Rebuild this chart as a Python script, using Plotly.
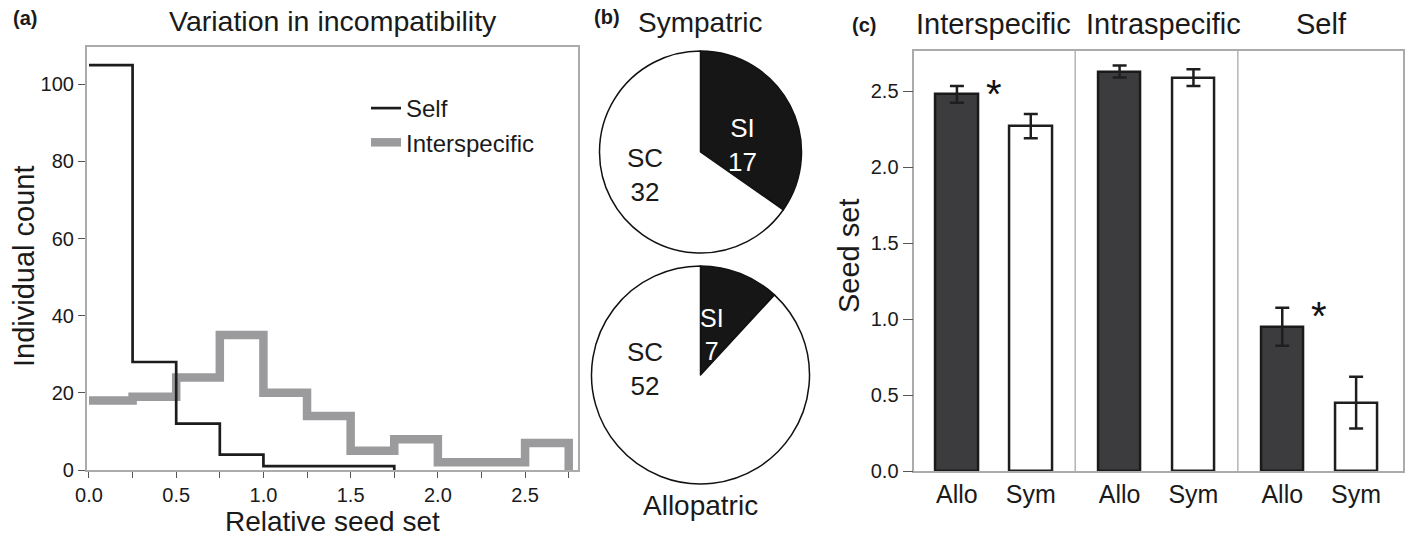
import plotly.graph_objects as go

# ---------------- data ----------------
# (a) histogram of relative seed set (bin edges every 0.25)
bin_edges = [0.0, 0.25, 0.5, 0.75, 1.0, 1.25, 1.5, 1.75, 2.0, 2.25, 2.5, 2.75]
self_counts = [105, 28, 12, 4, 1, 1, 1]
inter_counts = [18, 19, 24, 35, 20, 14, 5, 8, 2, 2, 7]

# (b) pie charts
pie_groups = ["Sympatric", "Allopatric"]
si_counts = [17, 7]
sc_counts = [32, 52]

# (c) seed set bars
cross_types = ["Interspecific", "Intraspecific", "Self"]
origins = ["Allo", "Sym"]
seed_allo = [2.48, 2.63, 0.95]
seed_allo_err = [0.055, 0.04, 0.125]
seed_sym = [2.27, 2.59, 0.45]
seed_sym_err = [0.08, 0.055, 0.17]
significant = [True, False, True]

FONT = "Liberation Sans, Arial, Helvetica, sans-serif"
W, H = 1408, 540


def px_x(p):
    return p / W


def px_y(p):
    return 1 - p / H


fig = go.Figure()

# ---------------- panel (a) ----------------
self_x = bin_edges[:len(self_counts) + 1]
self_y = self_counts + [0]
inter_x = bin_edges[:len(inter_counts) + 1]
inter_y = inter_counts + [0]

fig.add_trace(go.Scatter(x=inter_x, y=inter_y, mode="lines", line_shape="hv",
                         line=dict(color="#9b9b9d", width=8.5), name="Interspecific",
                         xaxis="x", yaxis="y"))
fig.add_trace(go.Scatter(x=self_x, y=self_y, mode="lines", line_shape="hv",
                         line=dict(color="#1c1c1c", width=2.7), name="Self",
                         xaxis="x", yaxis="y"))

# ---------------- panel (b) ----------------
pie_boxes = [  # centre x, centre y (px from top), radius
    (700.5, 152, 101),
    (700.5, 375, 109),
]
for g, si, sc, (cx, cy, r) in zip(pie_groups, si_counts, sc_counts, pie_boxes):
    fig.add_trace(go.Pie(values=[si, sc], labels=["SI", "SC"], sort=False,
                         direction="clockwise", rotation=0,
                         marker=dict(colors=["#161616", "#ffffff"],
                                     line=dict(color="#111111", width=1.5)),
                         textinfo="none", hoverinfo="label+value",
                         showlegend=False,
                         domain=dict(x=[px_x(cx - r), px_x(cx + r)],
                                     y=[px_y(cy + r), px_y(cy - r)])))

# ---------------- panel (c) ----------------
off = 0.227
bw = 0.26
x_allo = [i - off for i in range(len(cross_types))]
x_sym = [i + off for i in range(len(cross_types))]
fig.add_trace(go.Bar(x=x_allo, y=seed_allo, width=bw, name="Allo",
                     marker=dict(color="#3c3c3e", line=dict(color="#1a1a1a", width=2.5)),
                     error_y=dict(type="data", array=seed_allo_err, color="#1e1e1e",
                                  thickness=2.5, width=7),
                     xaxis="x2", yaxis="y2", showlegend=False))
fig.add_trace(go.Bar(x=x_sym, y=seed_sym, width=bw, name="Sym",
                     marker=dict(color="#ffffff", line=dict(color="#1e1e1e", width=2.5)),
                     error_y=dict(type="data", array=seed_sym_err, color="#1e1e1e",
                                  thickness=2.5, width=7),
                     xaxis="x2", yaxis="y2", showlegend=False))

tick_pos = []
tick_txt = []
for i in range(len(cross_types)):
    tick_pos += [x_allo[i], x_sym[i]]
    tick_txt += origins

annotations = []
# asterisks
for i, sig in enumerate(significant):
    if sig:
        top = seed_allo[i] + seed_allo_err[i]
        annotations.append(dict(x=i, y=top, xref="x2", yref="y2", text="*",
                                showarrow=False, font=dict(size=40, color="#111"),
                                yanchor="middle", xanchor="center", yshift=-8))
# group titles
title_shift = [0.0, 0.045, 0.015]
for i, name in enumerate(cross_types):
    annotations.append(dict(x=i + title_shift[i], y=px_y(24), xref="x2", yref="paper",
                            text=name, showarrow=False,
                            font=dict(size=29, color="#1a1a1a")))

# other texts
annotations += [
    dict(x=px_x(25), y=px_y(18), text="<b>(a)</b>", font=dict(size=20)),
    dict(x=px_x(333), y=px_y(21), text="Variation in incompatibility", font=dict(size=28.5)),
    dict(x=px_x(24), y=px_y(266), text="Individual count", font=dict(size=29), textangle=-90),
    dict(x=px_x(332), y=px_y(521), text="Relative seed set", font=dict(size=28)),
    dict(x=px_x(607), y=px_y(17), text="<b>(b)</b>", font=dict(size=20)),
    dict(x=px_x(700), y=px_y(22), text=pie_groups[0], font=dict(size=28)),
    dict(x=px_x(700), y=px_y(505), text=pie_groups[1], font=dict(size=28)),
    dict(x=px_x(742), y=px_y(145), text=f"SI<br>{si_counts[0]}", font=dict(size=26, color="white")),
    dict(x=px_x(645), y=px_y(175), text=f"SC<br>{sc_counts[0]}", font=dict(size=26)),
    dict(x=px_x(712), y=px_y(334), text=f"SI<br>{si_counts[1]}", font=dict(size=25, color="white")),
    dict(x=px_x(645), y=px_y(369), text=f"SC<br>{sc_counts[1]}", font=dict(size=26)),
    dict(x=px_x(864), y=px_y(25), text="<b>(c)</b>", font=dict(size=20)),
    dict(x=px_x(849), y=px_y(256), text="Seed set", font=dict(size=29), textangle=-90),
]
for a in annotations:
    a.setdefault("xref", "paper")
    a.setdefault("yref", "paper")
    a.setdefault("showarrow", False)
    a.setdefault("xanchor", "center")
    a.setdefault("yanchor", "middle")
    a["font"] = dict(family=FONT, color=a["font"].get("color", "#1a1a1a"), size=a["font"]["size"])

shapes = []
for xs in [0.5, 1.5]:
    shapes.append(dict(type="line", xref="x2", yref="y2 domain", x0=xs, x1=xs, y0=0, y1=1,
                       line=dict(color="#a9a9a9", width=1.3), layer="below"))

axis_common = dict(showgrid=False, zeroline=False, showline=True, mirror=True,
                   linecolor="#ababab", linewidth=1.5, ticks="outside",
                   tickcolor="#555555", tickwidth=1.3, automargin=False,
                   tickfont=dict(family=FONT, size=20, color="#1a1a1a"))

fig.update_layout(
    width=W, height=H,
    margin=dict(l=0, r=0, t=0, b=0, pad=0),
    paper_bgcolor="white", plot_bgcolor="white",
    font=dict(family=FONT, color="#1a1a1a"),
    showlegend=True,
    legend=dict(x=px_x(366), y=px_y(86), xanchor="left", yanchor="top",
                bgcolor="rgba(0,0,0,0)", font=dict(family=FONT, size=24, color="#1a1a1a"),
                traceorder="reversed", itemwidth=30),
    xaxis=dict(domain=[px_x(86.7), px_x(578.3)], range=[-0.013, 2.805],
               tickvals=[0, 0.5, 1.0, 1.5, 2.0, 2.5], tickformat=".1f", ticklen=6,
               minor=dict(tickvals=[0.25, 0.75, 1.25, 1.75, 2.25, 2.75], ticks="outside",
                          ticklen=6, tickcolor="#555555", tickwidth=1.3),
               anchor="y", **axis_common),
    yaxis=dict(domain=[px_y(470), px_y(47.3)], range=[0, 109.6],
               tickvals=[0, 20, 40, 60, 80, 100], ticklen=7, anchor="x", **axis_common),
    xaxis2=dict(domain=[px_x(914.3), px_x(1403.3)], range=[-0.489, 2.517],
                tickvals=tick_pos, ticktext=tick_txt, ticks="", anchor="y2",
                **{k: v for k, v in axis_common.items() if k not in ("ticks", "tickfont")},
                tickfont=dict(family=FONT, size=25, color="#1a1a1a")),
    yaxis2=dict(domain=[px_y(471), px_y(51)], range=[0, 2.765],
                tickvals=[0, 0.5, 1.0, 1.5, 2.0, 2.5], tickformat=".1f", ticklen=10,
                anchor="x2", **axis_common),
    annotations=annotations,
    shapes=shapes,
    bargap=0,
)

fig.write_html("out.html", config={"displayModeBar": False},
               post_script="document.body.style.margin='0';document.body.style.padding='0';")
